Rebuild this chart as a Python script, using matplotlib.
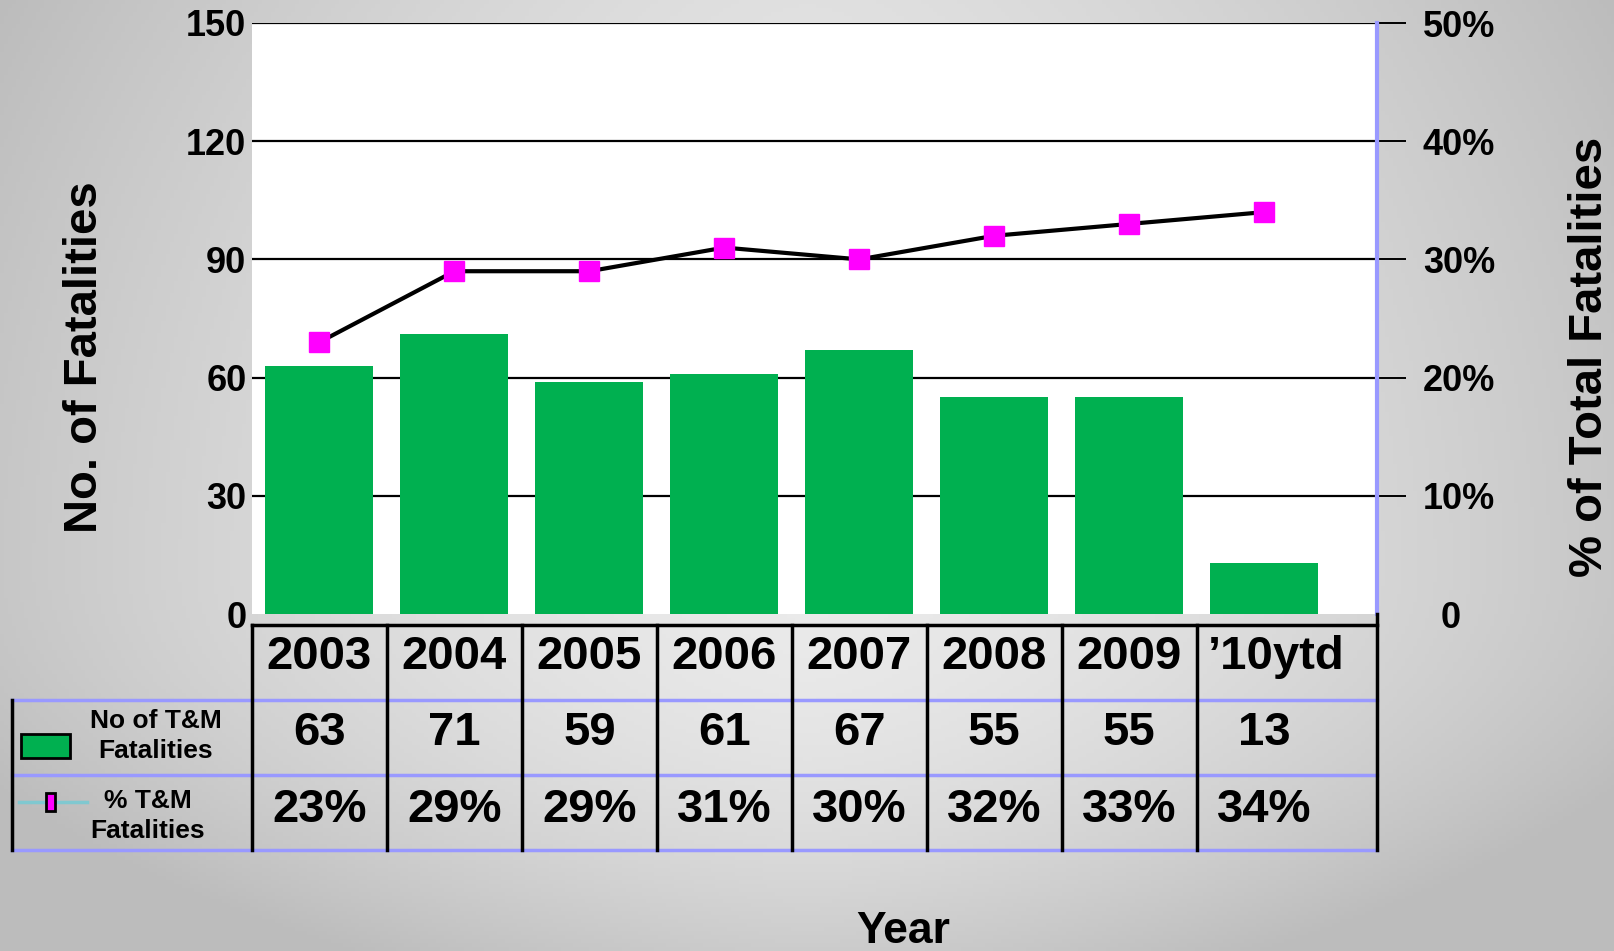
import numpy as np
import matplotlib
matplotlib.use("Agg")
import matplotlib.pyplot as plt
import matplotlib.transforms as mtransforms
from matplotlib.patches import Rectangle

# Data
YEARS = ["2003", "2004", "2005", "2006", "2007", "2008", "2009", "\u201910ytd"]
FATALITIES = [63, 71, 59, 61, 67, 55, 55, 13]
PCT_TOTAL = [23, 29, 29, 31, 30, 32, 33, 34]
LEFT_TICKS = [0, 30, 60, 90, 120, 150]
RIGHT_TICKS = [0, 10, 20, 30, 40, 50]
RIGHT_LABELS = ["0", "10%", "20%", "30%", "40%", "50%"]

GREEN = "#00b050"
MAGENTA = "#ff00ff"
PERI = "#9999ff"
BOLD = ["Liberation Sans", "DejaVu Sans"]

W, H = 1615, 951
fig = plt.figure(figsize=(W / 100, H / 100), dpi=100)

# gradient background
bg = fig.add_axes([0, 0, 1, 1], zorder=-10)
xx, yy = np.meshgrid(np.linspace(0, 1, 400), np.linspace(0, 1, 240))
dx = np.abs(xx - 0.5) / 0.5
vert = np.where(yy > 0.6, ((yy - 0.6) / 0.4) ** 2, 0.35 * ((0.6 - yy) / 0.6) ** 2)
v = np.clip(0.92 - 0.14 * dx ** 1.5 - 0.12 * vert, 0.74, 0.95)
bg.imshow(np.dstack([v, v, v]), aspect="auto", extent=[0, 1, 1, 0])
bg.set_xlim(0, 1)
bg.set_ylim(1, 0)
bg.axis("off")

# overlay in pixel coordinates for the table
ov = fig.add_axes([0, 0, 1, 1], zorder=5)
ov.set_xlim(0, W)
ov.set_ylim(H, 0)
ov.axis("off")

left, right, top, bottom = 252, 1377, 23, 614
ax = fig.add_axes([left / W, 1 - bottom / H, (right - left) / W, (bottom - top) / H])
n = len(YEARS)
x = np.arange(n)
ax.set_xlim(-0.5, n - 0.5 + 44 / 131)
ax.set_ylim(0, 150)
ax.set_facecolor("white")
for s in ax.spines.values():
    s.set_visible(False)
ax.set_xticks([])
ax.set_yticks(LEFT_TICKS)
ax.set_yticklabels([str(t) for t in LEFT_TICKS], fontsize=26, fontweight="bold", family=BOLD)
ax.tick_params(axis="y", length=0, pad=4)
for t in LEFT_TICKS[1:]:
    ax.axhline(t, color="black", lw=1.6, zorder=1)
ax.bar(x, FATALITIES, width=0.8, color=GREEN, zorder=2)
ax.set_ylabel("No. of Fatalities", fontsize=34, fontweight="bold", family=BOLD)
ax.yaxis.set_label_coords(-0.129, 0.435)

ax2 = ax.twinx()
ax2.set_ylim(0, 50)
for s in ax2.spines.values():
    s.set_visible(False)
ax2.spines["right"].set_visible(True)
ax2.spines["right"].set_color(PERI)
ax2.spines["right"].set_linewidth(3)
ax2.set_yticks(RIGHT_TICKS)
ax2.set_yticklabels(RIGHT_LABELS, fontsize=26, fontweight="bold", family=BOLD)
ax2.tick_params(axis="y", direction="out", length=21, width=1.4, pad=12, color="black")
ax2.yaxis.get_major_ticks()[0].tick2line.set_visible(False)
ax2.get_yticklabels()[0].set_x(1.016)
ax2.plot(x, PCT_TOTAL, color="black", lw=3, marker="s", ms=15,
         mfc=MAGENTA, mec=MAGENTA, zorder=3)
ax2.set_ylabel("% of Total Fatalities", fontsize=34, fontweight="bold", family=BOLD)
ax2.yaxis.set_label_coords(1.170, 0.435)

# data table under the chart: x in data units, y in pixels
tr = mtransforms.blended_transform_factory(ax.transData, ov.transData)
x_end = n - 0.5 + 44 / 131
row_top, row1, row2, row3 = 625, 700, 775, 850

ov.plot([-0.5, x_end], [row_top, row_top], color="black", lw=2.5, transform=tr)
for yl in (row1, row2, row3):
    ov.plot([12, right], [yl, yl], color=PERI, lw=2.5)
for i in range(n):
    ov.plot([i - 0.5, i - 0.5], [row_top, row3], color="black", lw=2.5, transform=tr)
ov.plot([x_end, x_end], [bottom, row3], color="black", lw=2.5, transform=tr)
ov.plot([12, 12], [row1, row3], color="black", lw=2.5)

for i in range(n):
    hx = i + 0.09 if i == n - 1 else i
    ov.text(hx, 657, YEARS[i], transform=tr, ha="center", va="center",
            fontsize=34, fontweight="bold", family=BOLD)
    ov.text(i, 733, str(FATALITIES[i]), transform=tr, ha="center", va="center",
            fontsize=34, fontweight="bold", family=BOLD)
    ov.text(i, 810, f"{PCT_TOTAL[i]}%", transform=tr, ha="center", va="center",
            fontsize=34, fontweight="bold", family=BOLD)

# legend keys in the first column
ov.add_patch(Rectangle((21, 734), 49, 24, facecolor=GREEN, edgecolor="black", lw=2))
ov.text(156, 736, "No of T&M\nFatalities", ha="center", va="center", fontsize=19,
        fontweight="bold", family=BOLD, linespacing=1.3)
ov.plot([19, 87], [802, 802], color="#80c8d0", lw=2.5)
ov.add_patch(Rectangle((46, 793), 9, 18, facecolor=MAGENTA, edgecolor="black", lw=2,
                       zorder=6))
ov.text(148, 816, "% T&M\nFatalities", ha="center", va="center", fontsize=19,
        fontweight="bold", family=BOLD, linespacing=1.3)

ov.text(903, 911, "Year", ha="center", va="top", fontsize=32, fontweight="bold",
        family=BOLD)

fig.savefig("out.png", dpi=100)
